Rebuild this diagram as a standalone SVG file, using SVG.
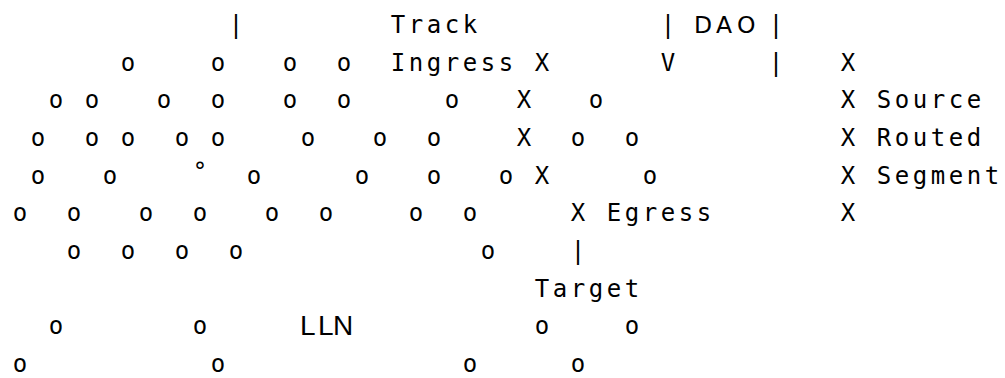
<svg xmlns="http://www.w3.org/2000/svg" width="1005" height="378" viewBox="0 0 1005 378">
<style>
.m{font-family:"DejaVu Sans Mono",monospace;font-size:24px;letter-spacing:3.55px;fill:#000}
.s{font-family:"DejaVu Sans","Liberation Sans",sans-serif;fill:#000}
.l{font-family:"Liberation Sans",Arial,sans-serif;fill:#000}
</style>
<rect width="1005" height="378" fill="#fff"/>
<g id="row1">
<text class="m" y="33"><tspan x="228.8">|</tspan><tspan x="390.8">Track</tspan><tspan x="660.8">|</tspan><tspan x="768.8">|</tspan></text>
<text class="s" y="33" font-size="23.5"><tspan x="694">D</tspan><tspan x="716">A</tspan><tspan x="737">O</tspan></text>
</g>
<g id="row2">
<text class="m" y="70.7"><tspan x="120.8">o</tspan><tspan x="210.8">o</tspan><tspan x="282.8">o</tspan><tspan x="336.8">o</tspan><tspan x="390.8">Ingress</tspan><tspan x="534.8">X</tspan><tspan x="660.8">V</tspan><tspan x="768.8">|</tspan><tspan x="840.8">X</tspan></text>
</g>
<g id="row3">
<text class="m" y="108.3"><tspan x="48.8">o</tspan><tspan x="84.8">o</tspan><tspan x="156.8">o</tspan><tspan x="210.8">o</tspan><tspan x="282.8">o</tspan><tspan x="336.8">o</tspan><tspan x="444.8">o</tspan><tspan x="516.8">X</tspan><tspan x="588.8">o</tspan><tspan x="840.8">X</tspan><tspan x="876.8">Source</tspan></text>
</g>
<g id="row4">
<text class="m" y="146"><tspan x="30.8">o</tspan><tspan x="84.8">o</tspan><tspan x="120.8">o</tspan><tspan x="174.8">o</tspan><tspan x="210.8">o</tspan><tspan x="300.8">o</tspan><tspan x="372.8">o</tspan><tspan x="426.8">o</tspan><tspan x="516.8">X</tspan><tspan x="570.8">o</tspan><tspan x="624.8">o</tspan><tspan x="840.8">X</tspan><tspan x="876.8">Routed</tspan></text>
</g>
<g id="row5">
<text class="m" y="183.7"><tspan x="30.8">o</tspan><tspan x="102.8">o</tspan><tspan x="246.8">o</tspan><tspan x="354.8">o</tspan><tspan x="426.8">o</tspan><tspan x="498.8">o</tspan><tspan x="534.8">X</tspan><tspan x="642.8">o</tspan><tspan x="840.8">X</tspan><tspan x="876.8">Segment</tspan></text>
<text class="m" x="192.8" y="180">°</text>
</g>
<g id="row6">
<text class="m" y="221.3"><tspan x="12.8">o</tspan><tspan x="66.8">o</tspan><tspan x="138.8">o</tspan><tspan x="192.8">o</tspan><tspan x="264.8">o</tspan><tspan x="318.8">o</tspan><tspan x="408.8">o</tspan><tspan x="462.8">o</tspan><tspan x="570.8">X</tspan><tspan x="606.8">Egress</tspan><tspan x="840.8">X</tspan></text>
</g>
<g id="row7">
<text class="m" y="259"><tspan x="66.8">o</tspan><tspan x="120.8">o</tspan><tspan x="174.8">o</tspan><tspan x="228.8">o</tspan><tspan x="480.8">o</tspan><tspan x="570.8">|</tspan></text>
</g>
<g id="row8">
<text class="m" y="296.7"><tspan x="534.8">Target</tspan></text>
</g>
<g id="row9">
<text class="m" y="334.3"><tspan x="48.8">o</tspan><tspan x="192.8">o</tspan><tspan x="534.8">o</tspan><tspan x="624.8">o</tspan></text>
<text class="l" y="335" font-size="28"><tspan x="300">L</tspan><tspan x="318">L</tspan><tspan x="333">N</tspan></text>
</g>
<g id="row10">
<text class="m" y="372"><tspan x="12.8">o</tspan><tspan x="210.8">o</tspan><tspan x="462.8">o</tspan><tspan x="570.8">o</tspan></text>
</g>
</svg>
